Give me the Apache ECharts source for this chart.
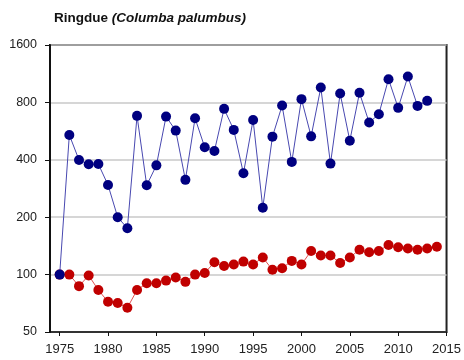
<!DOCTYPE html>
<html><head><meta charset="utf-8">
<script src="https://cdn.jsdelivr.net/npm/echarts@6/dist/echarts.min.js"></script>
<style>html,body{margin:0;padding:0;background:#fff}#c{width:464px;height:360px}</style>
</head><body><div id="c"></div>
<script>
const years = [1975,1976,1977,1978,1979,1980,1981,1982,1983,1984,1985,1986,1987,1988,1989,1990,1991,1992,1993,1994,1995,1996,1997,1998,1999,2000,2001,2002,2003,2004,2005,2006,2007,2008,2009,2010,2011,2012,2013,2014];
const blueValues = [100,540,399,379,380,295,200,175,680,294,374,674,569,314,661,465,445,740,574,340,647,224,529,770,390,832,531,957,382,890,504,898,627,694,1059,749,1093,767,815,null];
const redValues = [100,100,87,99,83,72,71,67,83,90,90,93,96.5,91.6,100,102,116,111,113,117,113,123,106,108,118,113,133,126,126,115,123,135,131,133,143,139,137,135,137,140];
const yTicks = [50,100,200,400,800,1600];
const xTicks = [1975,1980,1985,1990,1995,2000,2005,2010,2015];

const chart = echarts.init(document.getElementById('c'));
chart.setOption({
  animation:false,
  title:{
    left:49, top:6,
    text:'{a|Ringdue }{b|(Columba palumbus)}',
    textStyle:{rich:{
      a:{fontFamily:'Liberation Sans, Arial',fontWeight:'bold',fontSize:13.5,color:'#111'},
      b:{fontFamily:'Liberation Sans, Arial',fontWeight:'bold',fontStyle:'italic',fontSize:13.5,color:'#111'}
    }}
  },
  grid:{left:50,right:17,top:45,bottom:28,show:true,borderColor:'#222',borderWidth:2,containLabel:false},
  xAxis:{
    type:'value', min:1974, max:2015,
    axisLine:{show:true,onZero:false,lineStyle:{color:'#111',width:1.5}},
    axisTick:{show:true,length:4,customValues:xTicks,lineStyle:{color:'#111'}},
    axisLabel:{customValues:xTicks,formatter:v=>String(v),fontFamily:'Liberation Sans, Arial',fontSize:13,color:'#222',margin:11},
    splitLine:{show:false}
  },
  yAxis:{
    type:'log', logBase:2, min:50, max:1600,
    axisLine:{show:true,lineStyle:{color:'#111',width:2}},
    axisTick:{show:true,length:5,customValues:yTicks,lineStyle:{color:'#111'}},
    axisLabel:{customValues:yTicks,formatter:v=>String(Math.round(v)),fontFamily:'Liberation Sans, Arial',fontSize:12.5,color:'#222',margin:13},
    splitLine:{show:true,lineStyle:{color:'#c8c8c8',width:1.5}}
  },
  series:[
    {type:'line',data:years.map((y,i)=>[y,redValues[i]]),symbol:'circle',symbolSize:10,
     itemStyle:{color:'#c00000'},lineStyle:{color:'#e05050',width:1},z:2},
    {type:'line',data:years.map((y,i)=>[y,blueValues[i]]),symbol:'circle',symbolSize:10,connectNulls:false,
     itemStyle:{color:'#000080'},lineStyle:{color:'#4848b0',width:1},z:3}
  ]
});
</script></body></html>
